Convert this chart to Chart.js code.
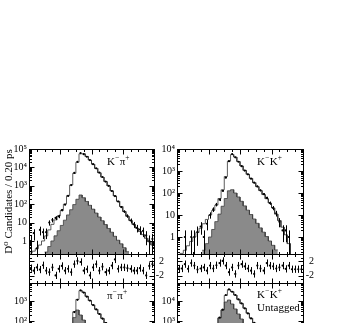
<!DOCTYPE html>
<html><head><meta charset="utf-8">
<script src="https://cdn.jsdelivr.net/npm/chart.js@4.4.1/dist/chart.umd.min.js"></script>
<style>
html,body{margin:0;padding:0;background:#fff;}
body{width:340px;height:323px;overflow:hidden;position:relative;}
canvas{position:absolute;}
</style></head><body>
<canvas id="kpiMain"></canvas>
<canvas id="kpiPull"></canvas>
<canvas id="kkMain"></canvas>
<canvas id="kkPull"></canvas>
<canvas id="pipiMain"></canvas>
<canvas id="kkuMain"></canvas>
<script>
// ---------- binning / axis ----------
const binLow = -2.0;
const binWidth = 0.2;
const xRange = [-2, 6];
const xMajorTicks = [-2, 0, 2, 4, 6];
const xMinorTicks = [-1.5, -1, -0.5, 0.5, 1, 1.5, 2.5, 3, 3.5, 4.5, 5, 5.5];

// ---------- K- pi+ ----------
const kpiCounts = [1.0,2.7,0.4,4,3,3,10,14,18,22,48,95,280,1100,5000,20000,60000,52000,38000,25000,15000,8900,5200,3000,1700,1000,520,275,140,70,40,23,13,8,5.2,4.2,3.5,2,1,1.3];
const kpiFit = [0.22,0.28,0.38,0.6,1.0,1.9,4,8,14,23,45,100,290,1100,4800,19000,55000,55000,39000,25000,15000,8800,5100,2950,1700,980,530,280,145,75,40,22,13,8,5,3.3,2.2,1.4,0.9,0.6];
const kpiBkg = [0,0,0,0,0,0.25,0.5,1.0,1.9,3.6,7,13.5,26,50,95,185,316,224,141,87,54,33,20,12.6,7.8,4.8,3.0,1.8,1.1,0.7,0.43,0.26,0,0,0,0,0,0,0,0];
const kpiPulls = [0.1,-0.6,0.3,-0.3,0.9,-0.6,-1.0,0.3,-1.9,-0.1,0.7,-0.6,-0.1,-1.0,1.2,2.1,1.8,-0.6,-0.2,-1.9,0.3,1.2,-0.6,0.5,-1.0,-0.6,0.8,2.5,-0.1,0.3,0.3,0.1,-0.1,-0.6,-0.6,0.1,-0.6,-1.9,0.7,1.2];

// ---------- K- K+ ----------
const kkCounts = [null,null,1,null,1,1,1.7,3,1,4,10,18,30,50,126,500,2800,5900,4200,2630,1660,1050,710,450,295,200,132,89,60,35,21,12,5,2,2,1,null,null,null,null];
const kkFit = [0.16,0.18,0.25,0.4,0.63,1.0,1.6,2.5,4,6.3,10,16,28,56,140,560,2800,5600,4300,2700,1700,1070,710,460,295,195,129,85,55,35,21,11,5.6,2.8,1.26,0.5,0.16,0.1,0.1,0.1];
const kkBkg = [0,0,0,0,0,0,0,0,0.25,0.5,1.0,2.2,5,11,25,56,126,141,100,66,42,26,16.6,10.5,6.6,4.2,2.6,1.66,1.05,0.66,0.42,0.26,0,0,0,0,0,0,0,0];
const kkPulls = [0,0,1.2,-0.1,1.5,0.8,-0.3,0,0.3,-0.6,0.8,0,0.9,1.5,2.1,0.8,-1.0,0.3,-1.5,0.8,1.2,0.6,0,-0.6,-1.5,0.8,0,-0.6,1.5,0.8,0.6,0,0.3,0.8,-0.1,0.8,-0.2,-0.2,-0.2,-0.2];

// ---------- pi- pi+ ----------
const pipiCounts = [null,1,null,1,1,1,2,2,3,5,8,12,18,45,280,1150,3400,2650,1650,1050,630,380,225,132,79,48,30,18,11,7,4,3,2,1,2,1,1,null,1,null];
const pipiFit = [0.1,0.15,0.2,0.3,0.5,0.8,1.3,2,3,5,8,12,20,55,290,1200,3300,2700,1700,1050,640,385,230,135,80,48,29,17,10.5,6.5,4,2.5,1.6,1,0.6,0.4,0.25,0.16,0.1,0.07];
const pipiBkg = [0,0,0,0,0,0,0,0.2,0.5,1.2,3,6,12,30,148,355,200,112,63,35,20,11,6.3,3.5,2,1.1,0.63,0.35,0.2,0.11,0,0,0,0,0,0,0,0,0,0];

// ---------- K- K+ untagged ----------
const kkuCounts = [null,null,1,2,2,3,5,8,15,30,60,130,600,1500,3700,20000,38000,29000,20000,12000,7600,4300,2400,1350,800,470,280,165,97,57,34,20,12,7,4,2.5,1.5,1,1,null];
const kkuFit = [0.3,0.5,0.8,1.3,2,3.2,5,8,14,28,60,140,620,1450,3650,19000,37000,29500,19800,12100,7500,4350,2450,1380,800,470,280,165,97,57,34,20,12,7,4.1,2.4,1.4,0.8,0.5,0.3];
const kkuBkg = [0,0,0,0,0,0,0,0,0,8,22,60,450,1400,3550,8900,11200,7100,4000,2240,1260,710,400,225,126,71,40,22,12.6,7,4,2.2,1.26,0.7,0.4,0,0,0,0,0];

// ---------- tick labels ----------
const kpiYLabels = [1,10,100,1000,10000,100000];
const kkYLabels = [1,10,100,1000,10000];
const pipiYLabels = [0.1,1,10,100,1000];
const kkuYLabels = [1,10,100,1000,10000];
const pullYLabels = [-2, 2];
const yTitle = 'D\u2070 Candidates / 0.20 ps';

const FONT = '"Liberation Serif","DejaVu Serif",serif';
const SUP = {'0':'\u2070','1':'\u00b9','2':'\u00b2','3':'\u00b3','4':'\u2074','5':'\u2075','6':'\u2076','7':'\u2077','8':'\u2078','9':'\u2079','-':'\u207b'};
function powLabel(v){
  const e = Math.round(Math.log10(v));
  if (e === 0) return '1';
  if (e === 1) return '10';
  return '10' + String(e).split('').map(c=>SUP[c]).join('');
}
function centers(vals){ return vals.map((v,i)=>({x: binLow + (i+0.5)*binWidth, y: v})); }
function steps(vals){
  const p=[];
  vals.forEach((v,i)=>{ const x0 = binLow + i*binWidth; p.push({x:x0,y:v},{x:x0+binWidth,y:v}); });
  return p;
}
function logTicks(lo, hi){
  const t=[];
  for(let d=lo; d<=hi; d++) for(let m=1;m<=9;m++) t.push([m*Math.pow(10,d), m===1]);
  return t;
}
const xTicks = xMajorTicks.map(v=>[v,true]).concat(xMinorTicks.map(v=>[v,false]));

const framePlugin = {
  id:'frame',
  afterDatasetsDraw(chart, args, o){
    const {ctx, chartArea:a, scales:{x, y}} = chart;
    ctx.save();
    ctx.strokeStyle='#000'; ctx.lineWidth=1;
    const L = Math.round(a.left)+0.5, R = Math.round(a.right)+0.5, T = Math.round(a.top)+0.5, B = Math.round(a.bottom)+0.5;
    ctx.strokeRect(L, T, R-L, B-T);
    ctx.beginPath();
    for(const [v,maj] of xTicks){
      const px = Math.round(x.getPixelForValue(v))+0.5;
      if (px < L || px > R) continue;
      const len = maj ? 5 : 2.5;
      ctx.moveTo(px,B); ctx.lineTo(px,B-len);
      ctx.moveTo(px,T); ctx.lineTo(px,T+len);
    }
    for(const [v,maj] of (o.yTicks||[])){
      const py = Math.round(y.getPixelForValue(v))+0.5;
      if (!(py >= T && py <= B)) continue;
      const len = maj ? 5 : 2.5;
      ctx.moveTo(L,py); ctx.lineTo(L+len,py);
      ctx.moveTo(R,py); ctx.lineTo(R-len,py);
    }
    ctx.stroke();
    ctx.restore();
  }
};
const errPlugin = {
  id:'errbars',
  afterDatasetsDraw(chart){
    const {ctx, chartArea:a, scales:{x, y}} = chart;
    ctx.save();
    ctx.beginPath(); ctx.rect(a.left, a.top, a.right-a.left, a.bottom-a.top); ctx.clip();
    ctx.strokeStyle='#000'; ctx.lineWidth=1;
    ctx.beginPath();
    chart.data.datasets.forEach(ds=>{
      if(!ds.errors) return;
      ds.data.forEach((p,j)=>{
        if(p.y==null) return;
        const e = ds.errors[j];
        const px = Math.round(x.getPixelForValue(p.x))+0.5;
        const lo = p.y - e, hi = p.y + e;
        const pyLo = (y.type==='logarithmic' && lo<=0) ? a.bottom+2 : y.getPixelForValue(lo);
        const pyHi = y.getPixelForValue(hi);
        ctx.moveTo(px, pyLo); ctx.lineTo(px, pyHi);
      });
    });
    ctx.stroke();
    ctx.restore();
  }
};
const textPlugin = {
  id:'texts',
  afterDraw(chart, args, o){
    if(!o.items) return;
    const ctx = chart.ctx; ctx.save(); ctx.fillStyle='#000'; ctx.textBaseline='alphabetic'; ctx.textAlign='left';
    for(const it of o.items){
      let x = it.x - o.ox;
      const yb = it.y - o.oy;
      for(const [s,sup] of it.parts){
        const sz = sup ? it.size*0.68 : it.size;
        ctx.font = sz + 'px ' + FONT;
        ctx.fillText(s, x, yb - (sup ? it.size*0.42 : 0));
        x += ctx.measureText(s).width + (sup ? 0.6 : 0);
      }
    }
    ctx.restore();
  }
};

function setupCanvas(id, pl){
  const cv = document.getElementById(id);
  cv.width = pl.w; cv.height = pl.h;
  cv.style.left = pl.left+'px'; cv.style.top = pl.top+'px';
  cv.style.width = pl.w+'px'; cv.style.height = pl.h+'px';
  return cv;
}

function mainPanel(id, pl, d){
  const cv = setupCanvas(id, pl);
  const datasets = [
    {label:'data', data: centers(d.counts), errors: d.counts.map(c=> c==null?null:Math.sqrt(c)),
      showLine:false, pointRadius:1.1, pointBackgroundColor:'#000', pointBorderWidth:0, order:0},
    {label:'fit', data: steps(d.fit), borderColor:'#333', borderWidth:0.8, pointRadius:0, fill:false, order:1},
    {label:'bkg', data: steps(d.bkg), borderColor:'#3c3c3c', borderWidth:0.8, backgroundColor:'#8a8a8a',
      pointRadius:0, fill:'start', order:2}
  ];
  new Chart(cv, {type:'line', data:{datasets}, options:{
    responsive:false, animation:false, events:[],
    layout:{padding: pl.pad},
    plugins:{legend:{display:false}, tooltip:{enabled:false},
      frame:{yTicks: logTicks(d.decLo, d.decHi)},
      texts:{items: d.texts, ox: pl.left, oy: pl.top}},
    scales:{
      x:{type:'linear', min:xRange[0], max:xRange[1], display:false},
      y:{type:'logarithmic', min:d.yMin, max:d.yMax, position:'left',
        grid:{display:false, drawTicks:false}, border:{display:false},
        ticks:{font:{family:FONT, size:10}, color:'#000', padding:2, autoSkip:false, maxRotation:0,
          callback: v=>powLabel(v)},
        afterBuildTicks: s=>{ s.ticks = d.yLabels.filter(v=>v>=d.yMin && v<=d.yMax).map(v=>({value:v})); },
        afterFit: s=>{ s.width = pl.axisW; },
        title: d.title ? {display:true, text:d.title, color:'#000', font:{family:FONT, size:11}, padding:{top:2.5,bottom:0}} : {display:false}
      }
    }
  }, plugins:[framePlugin, errPlugin, textPlugin]});
}

function pullPanel(id, pl, pulls){
  const cv = setupCanvas(id, pl);
  new Chart(cv, {type:'line', data:{datasets:[
    {label:'pull', data: centers(pulls), errors: pulls.map(()=>1), showLine:false, pointRadius:1.1,
      pointBackgroundColor:'#000', pointBorderWidth:0}
  ]}, options:{
    responsive:false, animation:false, events:[],
    layout:{padding: pl.pad},
    plugins:{legend:{display:false}, tooltip:{enabled:false},
      frame:{yTicks: [[-2,true],[2,true],[0,false],[-3,false],[-1,false],[1,false],[3,false]]}},
    scales:{
      x:{type:'linear', min:xRange[0], max:xRange[1], display:false},
      y:{type:'linear', min:-4, max:4, position:'right',
        grid:{display:false, drawTicks:false}, border:{display:false},
        ticks:{font:{family:FONT, size:10}, color:'#000', padding:2, crossAlign:'far', autoSkip:false,
          callback: v=>String(v)},
        afterBuildTicks: s=>{ s.ticks = pullYLabels.map(v=>({value:v})); },
        afterFit: s=>{ s.width = pl.axisW; }
      }
    }
  }, plugins:[framePlugin, errPlugin]});
}

const KM = '\u2212';
mainPanel('kpiMain', {left:0, top:139, w:170, h:126, pad:{top:10,right:16,bottom:11,left:0}, axisW:29}, {
  counts:kpiCounts, fit:kpiFit, bkg:kpiBkg, yMin:0.196, yMax:1e5, decLo:-1, decHi:5, yLabels:kpiYLabels,
  title: yTitle,
  texts:[{x:107, y:165, size:11, parts:[['K',0],[KM,1],['\u03c0',0],['+',1]]}]
});
pullPanel('kpiPull', {left:0, top:244, w:164, h:49, pad:{top:10,right:0,bottom:10,left:29}, axisW:10}, kpiPulls);
mainPanel('kkMain', {left:160, top:139, w:160, h:126, pad:{top:10,right:17,bottom:11,left:0}, axisW:17}, {
  counts:kkCounts, fit:kkFit, bkg:kkBkg, yMin:0.169, yMax:1e4, decLo:-1, decHi:4, yLabels:kkYLabels,
  texts:[{x:257, y:165, size:11, parts:[['K',0],[KM,1],['K',0],['+',1]]}]
});
pullPanel('kkPull', {left:160, top:244, w:154, h:49, pad:{top:10,right:0,bottom:10,left:17}, axisW:11}, kkPulls);
mainPanel('pipiMain', {left:0, top:273, w:170, h:126, pad:{top:10,right:16,bottom:11,left:0}, axisW:29}, {
  counts:pipiCounts, fit:pipiFit, bkg:pipiBkg, yMin:0.045, yMax:7943, decLo:-2, decHi:3, yLabels:pipiYLabels,
  texts:[{x:107, y:299, size:11, parts:[['\u03c0',0],[KM,1],['\u03c0',0],['+',1]]}]
});
mainPanel('kkuMain', {left:160, top:273, w:160, h:126, pad:{top:10,right:17,bottom:11,left:0}, axisW:17}, {
  counts:kkuCounts, fit:kkuFit, bkg:kkuBkg, yMin:0.447, yMax:79400, decLo:-1, decHi:4, yLabels:kkuYLabels,
  texts:[{x:257, y:298, size:11, parts:[['K',0],[KM,1],['K',0],['+',1]]},
         {x:257, y:311, size:11, parts:[['Untagged',0]]}]
});
</script>
</body></html>
